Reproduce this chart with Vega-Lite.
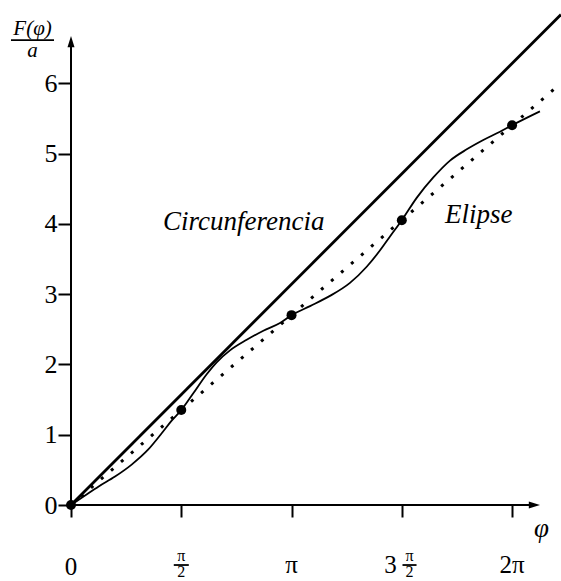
{
  "$schema": "https://vega.github.io/schema/vega-lite/v6.json",
  "width": 490,
  "height": 492,
  "autosize": {"type": "none"},
  "padding": {"left": 71, "top": 13, "right": 0, "bottom": 76},
  "background": "white",
  "config": {"view": {"stroke": null}},
  "datasets": {
    "circle": [{"x": 0, "y": 0}, {"x": 6.98, "y": 6.98}],
    "linear": [{"x": 0, "y": 0}, {"x": 6.98, "y": 6.001}],
    "ellipse": [
      {"x": 0, "y": 0},
      {"x": 0.2, "y": 0.135},
      {"x": 0.389, "y": 0.261},
      {"x": 0.627, "y": 0.405},
      {"x": 0.864, "y": 0.575},
      {"x": 1.101, "y": 0.79},
      {"x": 1.292, "y": 1.02},
      {"x": 1.434, "y": 1.2},
      {"x": 1.5708, "y": 1.3506},
      {"x": 1.742, "y": 1.589},
      {"x": 1.933, "y": 1.86},
      {"x": 2.075, "y": 2.03},
      {"x": 2.265, "y": 2.2},
      {"x": 2.503, "y": 2.35},
      {"x": 2.74, "y": 2.48},
      {"x": 2.977, "y": 2.59},
      {"x": 3.1416, "y": 2.7013},
      {"x": 3.405, "y": 2.83},
      {"x": 3.689, "y": 2.975},
      {"x": 3.974, "y": 3.16},
      {"x": 4.212, "y": 3.39},
      {"x": 4.40, "y": 3.62},
      {"x": 4.544, "y": 3.82},
      {"x": 4.7124, "y": 4.0519},
      {"x": 4.924, "y": 4.37},
      {"x": 5.161, "y": 4.66},
      {"x": 5.399, "y": 4.9},
      {"x": 5.637, "y": 5.06},
      {"x": 5.873, "y": 5.193},
      {"x": 6.111, "y": 5.311},
      {"x": 6.2832, "y": 5.4026},
      {"x": 6.68, "y": 5.6}
    ],
    "dots": [
      {"x": 0, "y": 0},
      {"x": 1.5708, "y": 1.3506},
      {"x": 3.1416, "y": 2.7013},
      {"x": 4.7124, "y": 4.0519},
      {"x": 6.2832, "y": 5.4026}
    ],
    "axes": [
      {"x": 0, "y": 0, "x2": 6.58, "y2": 0},
      {"x": 0, "y": 0, "x2": 0, "y2": 6.57}
    ],
    "bars": [
      {"x": 1.464, "y": -0.854, "x2": 1.678, "y2": -0.854},
      {"x": 4.722, "y": -0.854, "x2": 4.922, "y2": -0.854},
      {"x": -0.855, "y": 6.615, "x2": -0.242, "y2": 6.615}
    ],
    "ticklabels": [
      {"x": 0, "y": -0.99, "t": "0"},
      {"x": 3.1416, "y": -0.97, "t": "π"},
      {"x": 4.551, "y": -0.97, "t": "3"},
      {"x": 6.2832, "y": -0.97, "t": "2π"}
    ],
    "fractions": [
      {"x": 1.571, "y": -0.79, "t": "π"},
      {"x": 1.571, "y": -1.025, "t": "2"},
      {"x": 4.822, "y": -0.79, "t": "π"},
      {"x": 4.822, "y": -1.025, "t": "2"}
    ],
    "names": [
      {"x": 1.311, "y": 3.912, "t": "Circunferencia"},
      {"x": 5.328, "y": 4.016, "t": "Elipse"}
    ],
    "titles": [
      {"x": -0.548, "y": 6.686, "t": "F(φ)"},
      {"x": -0.548, "y": 6.378, "t": "a"}
    ],
    "xtitle": [
      {"x": 6.70, "y": -0.46, "t": "φ"}
    ]
  },
  "encoding": {
    "x": {
      "field": "x", "type": "quantitative",
      "scale": {"domain": [0, 6.98], "nice": false, "zero": false},
      "axis": {
        "values": [0, 1.5708, 3.1416, 4.7124, 6.2832],
        "labels": false, "domain": false, "grid": false, "title": null,
        "tickSize": 12, "tickWidth": 2, "tickColor": "black"
      }
    },
    "y": {
      "field": "y", "type": "quantitative",
      "scale": {"domain": [0, 7], "nice": false, "zero": false},
      "axis": {
        "values": [0, 1, 2, 3, 4, 5, 6],
        "domain": false, "grid": false, "title": null,
        "tickSize": 13, "tickWidth": 2, "tickColor": "black",
        "labelFont": "Liberation Serif", "labelFontSize": 26,
        "labelColor": "black", "labelPadding": 1
      }
    }
  },
  "layer": [
    {
      "data": {"name": "axes"},
      "mark": {"type": "rule", "color": "black", "strokeWidth": 2},
      "encoding": {"x2": {"field": "x2"}, "y2": {"field": "y2"}}
    },
    {
      "data": {"values": [{"x": 6.581, "y": 0}]},
      "mark": {"type": "point", "shape": "M1,0L-0.6,0.5L-0.6,-0.5Z", "filled": true, "color": "black", "opacity": 1, "size": 196}
    },
    {
      "data": {"values": [{"x": 0, "y": 6.573}]},
      "mark": {"type": "point", "shape": "M0,-1L0.5,0.6L-0.5,0.6Z", "filled": true, "color": "black", "opacity": 1, "size": 196}
    },
    {
      "data": {"name": "circle"},
      "mark": {"type": "line", "color": "black", "strokeWidth": 2.8}
    },
    {
      "data": {"name": "linear"},
      "mark": {"type": "line", "color": "black", "strokeWidth": 3, "strokeDash": [3, 10.2], "strokeCap": "butt"}
    },
    {
      "data": {"name": "ellipse"},
      "mark": {"type": "line", "color": "black", "strokeWidth": 1.8, "interpolate": "monotone"}
    },
    {
      "data": {"name": "dots"},
      "mark": {"type": "circle", "color": "black", "opacity": 1, "size": 100}
    },
    {
      "data": {"name": "bars"},
      "mark": {"type": "rule", "color": "black", "strokeWidth": 1.8},
      "encoding": {"x2": {"field": "x2"}, "y2": {"field": "y2"}}
    },
    {
      "data": {"name": "ticklabels"},
      "mark": {"type": "text", "font": "Liberation Serif", "fontSize": 25, "color": "black", "align": "center", "baseline": "alphabetic"},
      "encoding": {"text": {"field": "t"}}
    },
    {
      "data": {"name": "fractions"},
      "mark": {"type": "text", "font": "Liberation Serif", "fontSize": 16, "color": "black", "align": "center", "baseline": "alphabetic"},
      "encoding": {"text": {"field": "t"}}
    },
    {
      "data": {"name": "names"},
      "mark": {"type": "text", "font": "Liberation Serif", "fontStyle": "italic", "fontSize": 27, "color": "black", "align": "left", "baseline": "alphabetic"},
      "encoding": {"text": {"field": "t"}}
    },
    {
      "data": {"name": "titles"},
      "mark": {"type": "text", "font": "Liberation Serif", "fontStyle": "italic", "fontSize": 21, "color": "black", "align": "center", "baseline": "alphabetic"},
      "encoding": {"text": {"field": "t"}}
    },
    {
      "data": {"name": "xtitle"},
      "mark": {"type": "text", "font": "Liberation Serif", "fontStyle": "italic", "fontSize": 27, "color": "black", "align": "center", "baseline": "alphabetic"},
      "encoding": {"text": {"field": "t"}}
    }
  ]
}
